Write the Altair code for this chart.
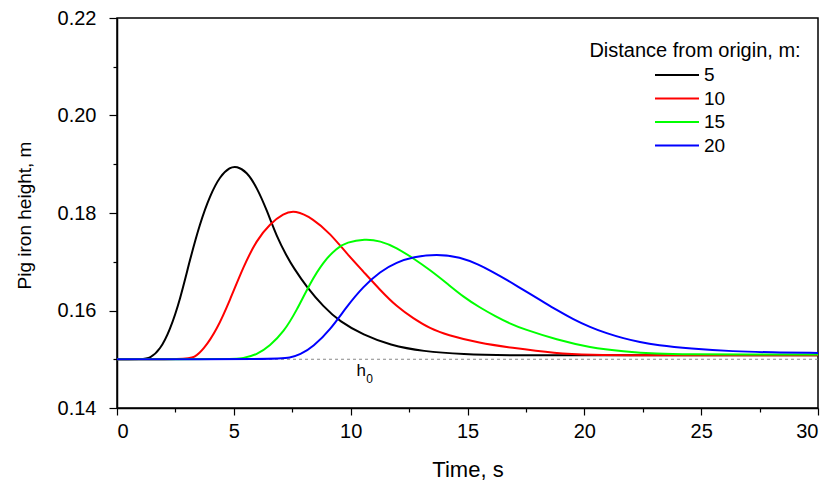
import altair as alt
import pandas as pd

distances = ["5", "10", "15", "20"]
colors = ["#000000", "#ff0000", "#00ff00", "#0000ff"]
legend_title = "Distance from origin, m:"

t_5 = [0, 1.1, 1.41, 1.84, 2.27, 2.70, 3.12, 3.55, 3.98, 4.41, 4.84, 5.12, 5.55, 5.98, 6.41, 6.84, 7.26,
       7.55, 8.12, 8.83, 9.54, 10.54, 11.68, 13.1, 14.8, 16.8, 20, 25, 30]
h_5 = [0.1500, 0.1500, 0.1502, 0.1519, 0.1560, 0.1622, 0.1704, 0.1779, 0.1836, 0.1876, 0.1894, 0.1896,
       0.1885, 0.1853, 0.1806, 0.1751, 0.1712, 0.1688, 0.1648, 0.1608, 0.1577, 0.1550, 0.1529, 0.1516,
       0.1510, 0.1508, 0.1508, 0.1508, 0.1508]

t_10 = [0, 3.0, 3.3, 3.69, 4.27, 4.84, 5.41, 5.98, 6.55, 7.12, 7.62, 8.40, 9.12, 9.83, 10.54, 11.26, 11.97,
        12.68, 13.4, 14.11, 15.53, 16.82, 18.8, 20.2, 22.5, 25, 30]
h_10 = [0.1500, 0.1500, 0.1503, 0.1519, 0.1560, 0.1622, 0.1690, 0.1745, 0.1778, 0.1799, 0.1806, 0.1788,
        0.1758, 0.1717, 0.1680, 0.1642, 0.1608, 0.1584, 0.1563, 0.1550, 0.1533, 0.1524, 0.1512, 0.1509,
        0.1508, 0.1508, 0.1508]

t_15 = [0, 4.9, 5.4, 5.98, 6.55, 7.12, 7.69, 8.26, 8.83, 9.4, 9.83, 10.61, 11.26, 11.97, 12.68, 13.4, 14.11,
        14.82, 15.53, 16.2, 16.82, 17.39, 18.82, 20.24, 21.67, 23.1, 24.5, 27, 30]
h_15 = [0.1500, 0.1500, 0.1502, 0.1509, 0.1528, 0.1555, 0.1600, 0.1656, 0.1700, 0.1728, 0.1740, 0.1747,
        0.1743, 0.1729, 0.1707, 0.1683, 0.1656, 0.1628, 0.1606, 0.1588, 0.1573, 0.1562, 0.1540, 0.1524,
        0.1516, 0.1511, 0.1510, 0.1510, 0.1510]

t_20 = [0, 6.9, 7.4, 7.83, 8.40, 9.12, 9.83, 10.54, 11.26, 11.97, 12.68, 13.68, 14.68, 15.53, 15.96, 16.68,
        17.39, 18.1, 18.82, 19.53, 20.24, 20.96, 21.67, 22.38, 23.1, 24.52, 26.4, 28, 30]
h_20 = [0.1500, 0.1500, 0.1503, 0.1509, 0.1526, 0.1560, 0.1608, 0.1649, 0.1680, 0.1699, 0.1710, 0.1716,
        0.1710, 0.1693, 0.1682, 0.1663, 0.1642, 0.1622, 0.1601, 0.1582, 0.1566, 0.1553, 0.1543, 0.1535,
        0.1529, 0.1522, 0.1516, 0.1514, 0.1513]

h0 = 0.15
h0_label_t = 10.45
x_ticks = [0, 2.5, 5, 7.5, 10, 12.5, 15, 17.5, 20, 22.5, 25, 27.5, 30]
y_ticks = [0.14, 0.15, 0.16, 0.17, 0.18, 0.19, 0.20, 0.21, 0.22]

rows = []
for d, ts, hs in zip(distances, [t_5, t_10, t_15, t_20], [h_5, h_10, h_15, h_20]):
    for t, h in zip(ts, hs):
        rows.append({"t": t, "h": h, "d": d})
df = pd.DataFrame(rows)

FONT = "Liberation Sans"

x_enc = alt.X(
    "t:Q",
    scale=alt.Scale(domain=[0, 30], nice=False, zero=False),
    axis=alt.Axis(
        values=x_ticks,
        labelExpr="datum.value % 5 == 0 ? format(datum.value, 'd') : ''",
        tickSize={"condition": {"test": "datum.value % 5 == 0", "value": 7}, "value": 4},
        labelPadding=6,
        labelFontSize=20,
        title="Time, s",
        titleFontSize=22,
        titleBaseline="alphabetic",
        titleY=68,
    ),
)
y_enc = alt.Y(
    "h:Q",
    scale=alt.Scale(domain=[0.14, 0.22], nice=False, zero=False),
    axis=alt.Axis(
        values=y_ticks,
        labelExpr="round(datum.value * 100) % 2 == 0 ? format(datum.value, '.2f') : ''",
        tickSize={"condition": {"test": "round(datum.value * 100) % 2 == 0", "value": 8}, "value": 4},
        labelPadding=13,
        labelFontSize=20,
        title="Pig iron height, m",
        titleFontSize=19,
        titleBaseline="alphabetic",
        titleAngle=-90,
        titleX=-87,
        titleY=197,
    ),
)

lines = alt.Chart(df).mark_line(interpolate="basis", strokeWidth=2).encode(
    x=x_enc,
    y=y_enc,
    color=alt.Color(
        "d:N",
        scale=alt.Scale(domain=distances, range=colors),
        legend=alt.Legend(
            title=None,
            orient="none",
            legendX=537,
            legendY=47,
            symbolType="stroke",
            symbolSize=1936,
            symbolStrokeWidth=2,
            clipHeight=20,
            rowPadding=3.5,
            labelFont=FONT,
            labelFontSize=19,
            labelColor="black",
            labelOffset=4,
            padding=0,
        ),
    ),
    order=alt.Order("t:Q"),
)

base_df = pd.DataFrame({"h": [h0], "t": [h0_label_t], "sub": ["0"], "main": ["h"]})
baseline = alt.Chart(base_df).mark_rule(color="#888888", strokeDash=[3, 3], strokeWidth=1).encode(y="h:Q")
h_text = alt.Chart(base_df).mark_text(font=FONT, fontSize=17, baseline="alphabetic", align="center", dy=17).encode(
    x="t:Q", y="h:Q", text="main:N")
sub_text = alt.Chart(base_df).mark_text(font=FONT, fontSize=12, baseline="alphabetic", align="left", dx=5, dy=24).encode(
    x="t:Q", y="h:Q", text="sub:N")

title_df = pd.DataFrame({"label": [legend_title]})
leg_title = alt.Chart(title_df).mark_text(font=FONT, fontSize=20, align="center", baseline="middle").encode(
    x=alt.value(578), y=alt.value(33), text="label:N")

chart = (
    alt.layer(baseline, lines, h_text, sub_text, leg_title)
    .properties(
        width=701,
        height=390,
        autosize="none",
        padding={"left": 109, "top": 10, "right": 13, "bottom": 72},
    )
    .configure_view(stroke="black", strokeWidth=1.5)
    .configure_axis(
        grid=False,
        domainColor="black",
        domainWidth=1.5,
        tickColor="black",
        tickWidth=1.2,
        labelColor="black",
        titleColor="black",
        labelFont=FONT,
        titleFont=FONT,
        titleFontWeight="normal",
    )
)

chart.save("out.html", embed_options={"renderer": "svg", "actions": False})
